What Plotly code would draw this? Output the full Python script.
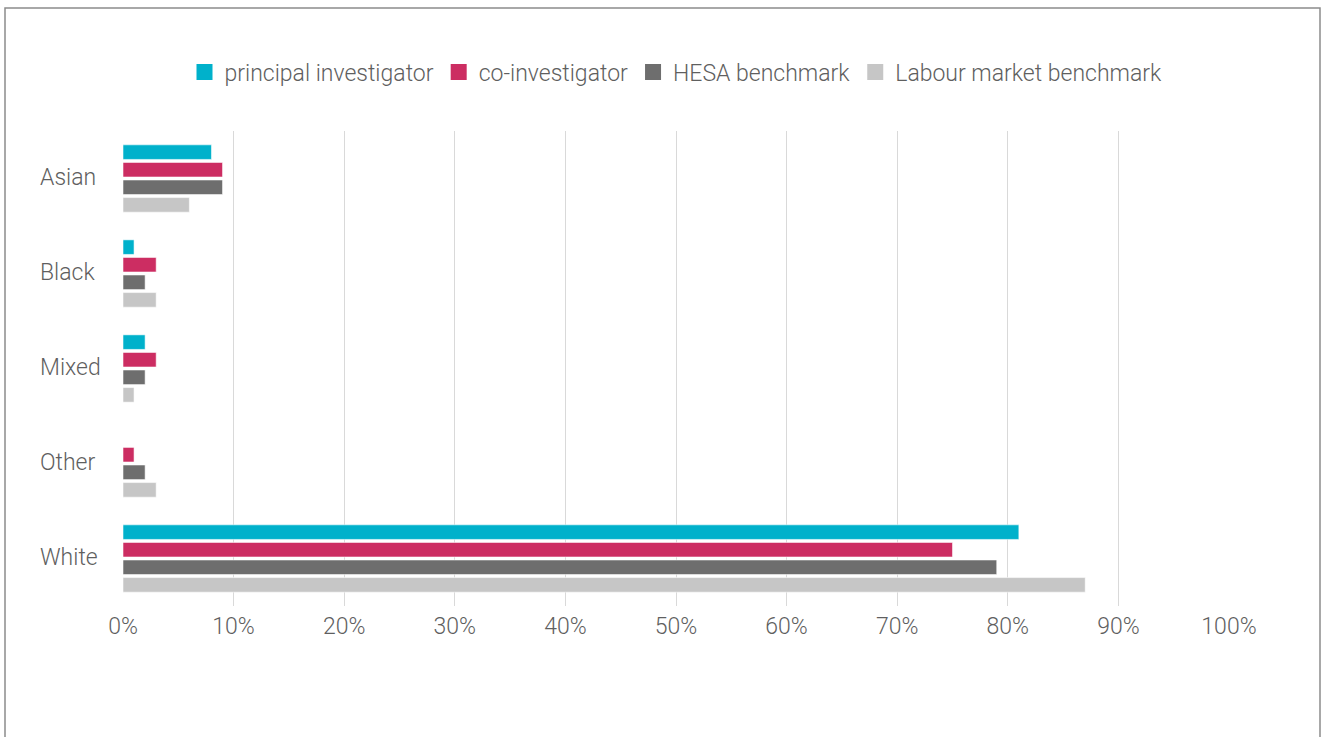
import plotly.graph_objects as go

categories = ["Asian", "Black", "Mixed", "Other", "White"]
series_names = ["principal investigator", "co-investigator", "HESA benchmark", "Labour market benchmark"]
principal_investigator = [8, 1, 2, 0, 81]
co_investigator = [9, 3, 3, 1, 75]
hesa_benchmark = [9, 2, 2, 2, 79]
labour_market_benchmark = [6, 3, 1, 3, 87]
tick_values = [0, 10, 20, 30, 40, 50, 60, 70, 80, 90, 100]
tick_labels = [f"{v}%" for v in tick_values]

series_values = [principal_investigator, co_investigator, hesa_benchmark, labour_market_benchmark]
colors = ["#00B1CB", "#CC2D62", "#6E6E6E", "#C6C6C6"]

W, H = 1322, 737
ML, MR, MT, MB = 123, 93, 131, 131
PW, PH = W - ML - MR, H - MT - MB
FONT = dict(family="Roboto Light, Roboto, sans-serif", size=23, color="#5F5F5F", weight=300)

fig = go.Figure()
for name, vals, col in zip(series_names, series_values, colors):
    fig.add_trace(go.Bar(
        y=categories, x=vals, name=name, orientation="h", showlegend=False,
        marker=dict(color=col, line=dict(color="rgba(255,255,255,0.55)", width=1)),
    ))
# legend entries with larger square swatches
for name, col in zip(series_names, colors):
    fig.add_trace(go.Scatter(
        x=[None], y=[None], name=name, mode="markers",
        marker=dict(symbol="square", size=16, color=col),
    ))

# left-aligned category labels
for cat in categories:
    fig.add_annotation(
        x=(38 - ML) / PW, xref="paper", xanchor="left",
        y=cat, yref="y", yanchor="middle", yshift=1,
        text=cat, showarrow=False, font=FONT,
    )

# outer frame
fig.add_shape(
    type="rect", xref="paper", yref="paper",
    x0=(5 - ML) / PW, x1=(1320 - ML) / PW,
    y0=(H - MB - 760) / PH, y1=(H - MB - 8) / PH,
    line=dict(color="#8C8C8C", width=1.5), fillcolor="rgba(0,0,0,0)", layer="below",
)

fig.update_layout(
    width=W, height=H,
    margin=dict(l=ML, r=MR, t=MT, b=MB),
    paper_bgcolor="white", plot_bgcolor="white",
    barmode="group", bargap=0.26, bargroupgap=0.17,
    font=FONT,
    showlegend=True,
    legend=dict(
        orientation="h", x=(676 - ML) / PW, xanchor="center",
        y=(H - MB - 72) / PH, yanchor="middle",
        font=FONT, traceorder="normal", itemwidth=30,
    ),
    xaxis=dict(
        range=[0, 100], tickvals=tick_values, ticktext=tick_labels,
        showgrid=True, gridcolor="#D9D9D9", gridwidth=1.3,
        zeroline=False, showline=False, ticks="",
        tickfont=FONT, ticklabelstandoff=4,
    ),
    yaxis=dict(
        categoryorder="array", categoryarray=categories,
        autorange="reversed", showticklabels=False,
        showgrid=False, zeroline=False, showline=False, ticks="",
    ),
)

fig.write_html("out.html")
